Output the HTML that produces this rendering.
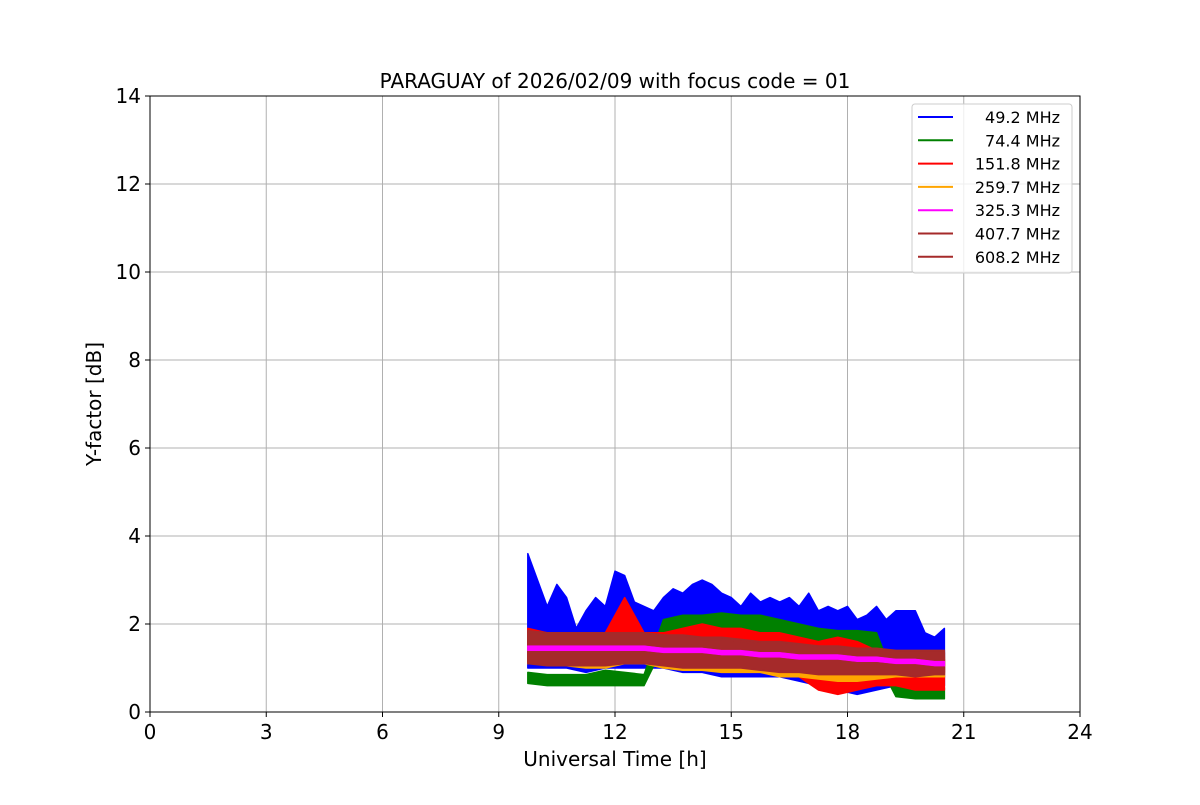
<!DOCTYPE html>
<html><head><meta charset="utf-8"><style>
body{margin:0;background:#fff}
svg text{font-family:"DejaVu Sans","Liberation Sans",sans-serif;fill:#000}
</style></head><body>
<svg id="chart" width="1200" height="800" xmlns="http://www.w3.org/2000/svg">
<rect width="1200" height="800" fill="#fff"/>
<g id="grid"></g><g id="series"></g><g id="axes"></g><g id="legend"></g>
</svg>
<script>
const xTicks=[0,3,6,9,12,15,18,21,24];
const yTicks=[0,2,4,6,8,10,12,14];
const T=[9.75,10,10.25,10.5,10.75,11,11.25,11.5,11.75,12,12.25,12.5,12.75,13,13.25,13.5,13.75,14,14.25,14.5,14.75,15,15.25,15.5,15.75,16,16.25,16.5,16.75,17,17.25,17.5,17.75,18,18.25,18.5,18.75,19,19.25,19.5,19.75,20,20.25,20.5];
const blueHi=[3.6,3.0,2.4,2.9,2.6,1.9,2.3,2.6,2.4,3.2,3.1,2.5,2.4,2.3,2.6,2.8,2.7,2.9,3.0,2.9,2.7,2.6,2.4,2.7,2.5,2.6,2.5,2.6,2.4,2.7,2.3,2.4,2.3,2.4,2.1,2.2,2.4,2.1,2.3,2.3,2.3,1.8,1.7,1.9];
const T2=[9.75,10.25,10.75,11.25,11.75,12.25,12.75,13.25,13.75,14.25,14.75,15.25,15.75,16.25,16.75,17.25,17.75,18.25,18.75,19.25,19.75,20.25,20.5];
const blueLo=[1.0,1.0,1.0,0.9,1.0,1.0,1.0,1.0,0.9,0.9,0.8,0.8,0.8,0.8,0.7,0.6,0.5,0.4,0.5,0.6,0.6,0.5,0.6];
const greenHi=[.9,.85,.85,.85,.95,.9,.85,2.1,2.2,2.2,2.25,2.2,2.2,2.1,2.0,1.9,1.85,1.85,1.8,.65,.6,.6,.55];
const greenLo=[.65,.6,.6,.6,.6,.6,.6,1.5,1.6,1.6,1.6,1.5,1.5,1.4,1.4,1.2,1.3,1.3,1.2,.35,.3,.3,.3];
const redHi=[1.9,1.8,1.8,1.8,1.8,2.6,1.8,1.8,1.9,2.0,1.9,1.9,1.8,1.8,1.7,1.6,1.7,1.6,1.4,1.3,1.2,1.2,1.2];
const redLo=[1.2,1.2,1.2,1.2,1.2,1.6,1.2,1.1,1.1,1.0,1.0,1.0,1.0,0.9,0.8,0.5,0.4,0.5,0.6,0.6,0.5,0.5,0.5];
const orangeHi=[1.7,1.7,1.7,1.7,1.7,1.7,1.7,1.7,1.65,1.65,1.6,1.6,1.55,1.5,1.5,1.45,1.4,1.4,1.35,1.3,1.3,1.25,1.25];
const orangeLo=[1.1,1.1,1.05,1.0,1.0,1.1,1.1,1.0,0.95,0.95,0.9,0.9,0.9,0.8,0.8,0.75,0.7,0.7,0.75,0.8,0.8,0.8,0.8];
const magentaHi=[1.5,1.5,1.5,1.5,1.5,1.5,1.5,1.45,1.45,1.45,1.4,1.4,1.35,1.35,1.3,1.3,1.3,1.25,1.25,1.2,1.2,1.15,1.15];
const magentaLo=[1.4,1.4,1.4,1.4,1.4,1.4,1.4,1.35,1.35,1.35,1.3,1.3,1.25,1.25,1.2,1.2,1.2,1.15,1.15,1.1,1.1,1.05,1.05];
const brownHi=[1.85,1.8,1.8,1.8,1.8,1.8,1.8,1.75,1.75,1.7,1.7,1.65,1.6,1.6,1.55,1.5,1.5,1.45,1.45,1.4,1.4,1.4,1.4];
const brownLo=[1.1,1.05,1.05,1.05,1.05,1.1,1.1,1.05,1.0,1.0,1.0,1.0,0.95,0.9,0.9,0.85,0.85,0.85,0.85,0.85,0.8,0.85,0.85];
const legendLabels=[" 49.2 MHz"," 74.4 MHz","151.8 MHz","259.7 MHz","325.3 MHz","407.7 MHz","608.2 MHz"];
const legendColors=["blue","green","red","orange","magenta","brown","brown"];

const X0=150,X1=1080,Y0=712,Y1=96;
const xs=v=>X0+(v-0)/(24-0)*(X1-X0);
const ys=v=>Y0-(v-0)/(14-0)*(Y0-Y1);
const NS="http://www.w3.org/2000/svg";
function mk(tag,attrs,parent){const e=document.createElementNS(NS,tag);for(const k in attrs)e.setAttribute(k,attrs[k]);parent.appendChild(e);return e;}
const grid=document.getElementById('grid'),axes=document.getElementById('axes'),ser=document.getElementById('series'),leg=document.getElementById('legend');

xTicks.forEach(t=>{
 const g=mk('line',{x1:xs(t),x2:xs(t),y1:Y1,y2:Y0,stroke:'#b0b0b0','stroke-width':1},grid);
 
 mk('line',{x1:xs(t),x2:xs(t),y1:Y0,y2:Y0+5,stroke:'#000','stroke-width':1},axes);
 const l=mk('text',{x:xs(t),y:Y0+27,'text-anchor':'middle','font-size':20},axes);l.textContent=t;
 
});
yTicks.forEach(t=>{
 const g=mk('line',{x1:X0,x2:X1,y1:ys(t),y2:ys(t),stroke:'#b0b0b0','stroke-width':1},grid);
 
 mk('line',{x1:X0-5,x2:X0,y1:ys(t),y2:ys(t),stroke:'#000','stroke-width':1},axes);
 const l=mk('text',{x:X0-9,y:ys(t)+7,'text-anchor':'end','font-size':20},axes);l.textContent=t;
 
});
const fr=mk('rect',{x:X0,y:Y1,width:X1-X0,height:Y0-Y1,fill:'none',stroke:'#000','stroke-width':1},axes);


function band(tHi,hi,tLo,lo,color,name){
 let pts=tHi.map((t,i)=>xs(t)+','+ys(hi[i]));
 for(let i=tLo.length-1;i>=0;i--)pts.push(xs(tLo[i])+','+ys(lo[i]));
 const p=mk('polygon',{points:pts.join(' '),fill:color,stroke:color,'stroke-width':1.5,'stroke-linejoin':'round'},ser);
 
}
band(T,blueHi,T2,blueLo,'blue','series-49-2-mhz');
band(T2,greenHi,T2,greenLo,'green','series-74-4-mhz');
band(T2,redHi,T2,redLo,'red','series-151-8-mhz');
band(T2,orangeHi,T2,orangeLo,'orange','series-259-7-mhz');
band(T2,brownHi,T2,brownLo,'brown','series-407-7-mhz');
band(T2,magentaHi,T2,magentaLo,'magenta','series-325-3-mhz');
band(T2,brownHi.map(v=>v-0.05),T2,magentaHi.map(v=>v+0.03),'brown','series-608-2-mhz-upper');
band(T2,magentaLo.map(v=>v-0.03),T2,brownLo.map(v=>v+0.05),'brown','series-608-2-mhz');

const title=mk('text',{x:615,y:88,'text-anchor':'middle','font-size':20},axes);title.textContent='PARAGUAY of 2026/02/09 with focus code = 01';

const xl=mk('text',{x:615,y:766,'text-anchor':'middle','font-size':20},axes);xl.textContent='Universal Time [h]';

const yl=mk('text',{x:0,y:0,'text-anchor':'middle','font-size':20,transform:'translate(101,404) rotate(-90)'},axes);yl.textContent='Y-factor [dB]';


const lb=mk('rect',{x:912,y:104,width:160,height:169,rx:3,fill:'#fff','fill-opacity':0.8,stroke:'#ccc'},leg);

legendLabels.forEach((s,i)=>{
 const y=117+i*23.3;
 const ln=mk('line',{x1:918,x2:953,y1:y,y2:y,stroke:legendColors[i],'stroke-width':2},leg);
 
 const t=mk('text',{x:1060,y:y+6,'text-anchor':'end','font-size':16,'xml:space':'preserve'},leg);t.textContent=s;
 
});
</script>
</body></html>
